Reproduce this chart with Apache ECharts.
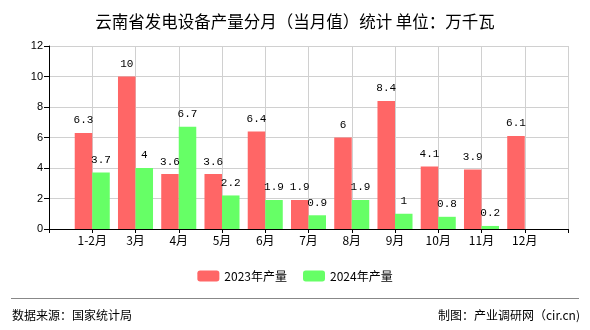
<!DOCTYPE html>
<html>
<head>
<meta charset="utf-8">
<script src="https://cdn.jsdelivr.net/npm/echarts@6/dist/echarts.min.js"></script>
<style>html,body{margin:0;padding:0;background:#fff}#c{width:590px;height:330px}</style>
</head>
<body>
<div id="c"></div>
<script>
var categories = ['1-2月','3月','4月','5月','6月','7月','8月','9月','10月','11月','12月'];
var values2023 = [6.3, 10, 3.6, 3.6, 6.4, 1.9, 6, 8.4, 4.1, 3.9, 6.1];
var values2024 = [3.7, 4, 6.7, 2.2, 1.9, 0.9, 1.9, 1, 0.8, 0.2, null];
var seriesNames = ['2023年产量', '2024年产量'];
var yTicks = [0, 2, 4, 6, 8, 10, 12];

// pad with an empty slot on both ends so ticks sit at category centres
var axisCats = [''].concat(categories, ['']);
function pad(a){ return [null].concat(a, [null]); }

var chart = echarts.init(document.getElementById('c'), null, {renderer:'canvas'});
var labelFont = 'Liberation Mono';
chart.setOption({
  animation: false,
  backgroundColor: '#fff',
  title: {
    text: '云南省发电设备产量分月（当月值）统计 单位：万千瓦',
    left: 'center', top: 8,
    textStyle: {fontFamily: 'Noto Sans CJK SC', fontSize: 16.5, fontWeight: 'normal', color: '#000'}
  },
  legend: {
    bottom: 43, left: 'center',
    itemWidth: 22, itemHeight: 11, itemGap: 16,
    textStyle: {fontFamily: 'Noto Sans CJK SC', fontSize: 12, color: '#000'},
    data: seriesNames
  },
  grid: {left: 49, right: 22, top: 46, bottom: 101},
  xAxis: {
    type: 'category',
    data: axisCats,
    boundaryGap: false,
    axisLine: {lineStyle: {color: '#000', width: 1}},
    axisTick: {show: true, length: 4, lineStyle: {color: '#000'}},
    axisLabel: {color: '#000', fontFamily: 'Noto Sans CJK SC', fontSize: 12, margin: 5, interval: 0},
    splitLine: {show: true, lineStyle: {color: '#d0d0d0'}}
  },
  yAxis: {
    type: 'value', min: yTicks[0], max: yTicks[yTicks.length-1], interval: 2,
    axisLine: {show: true, lineStyle: {color: '#000'}},
    axisTick: {show: true, length: 5, lineStyle: {color: '#000'}},
    axisLabel: {color: '#000', fontFamily: 'Liberation Sans', fontSize: 11, margin: 6},
    splitLine: {show: true, lineStyle: {color: '#d0d0d0'}}
  },
  series: [
    {
      name: seriesNames[0], type: 'bar', data: pad(values2023),
      barGap: '0%', barCategoryGap: '19%',
      itemStyle: {color: '#FF6666'},
      label: {show: true, position: 'top', distance: 7, color: '#000', fontFamily: labelFont, fontSize: 11}
    },
    {
      name: seriesNames[1], type: 'bar', data: pad(values2024),
      barGap: '0%', barCategoryGap: '19%',
      itemStyle: {color: '#66FF66'},
      label: {show: true, position: 'top', distance: 7, color: '#000', fontFamily: labelFont, fontSize: 11}
    }
  ],
  graphic: [
    {type: 'line', shape: {x1: 11, y1: 298.5, x2: 579, y2: 298.5}, style: {stroke: '#888', lineWidth: 1}},
    {type: 'text', left: 12, top: 309, style: {text: '数据来源：国家统计局', font: '12px "Noto Sans CJK SC"', fill: '#000'}},
    {type: 'text', right: 10, top: 309, style: {text: '制图：产业调研网（cir.cn)', font: '12px "Noto Sans CJK SC"', fill: '#000'}}
  ]
});
</script>
</body>
</html>
